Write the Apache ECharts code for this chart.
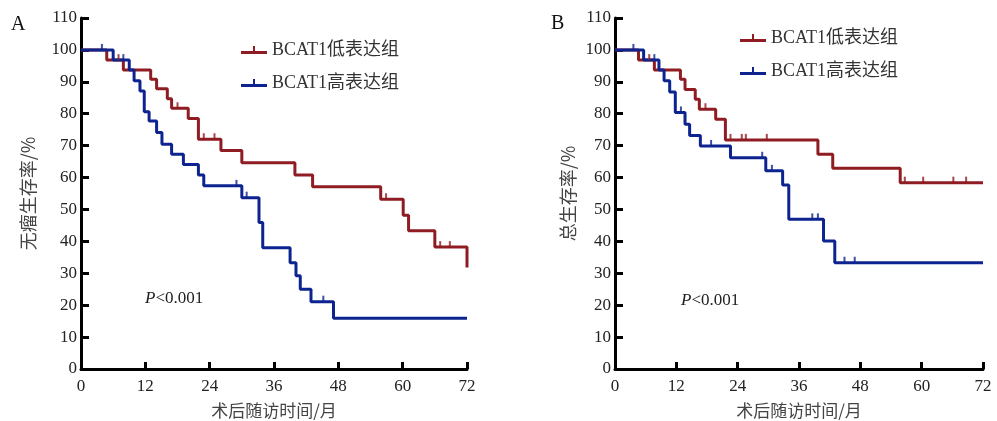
<!DOCTYPE html>
<html><head><meta charset="utf-8">
<script src="https://cdn.jsdelivr.net/npm/echarts@6/dist/echarts.min.js"></script>
<style>html,body{margin:0;padding:0;background:#fff}#c{width:997px;height:421px}</style>
</head><body><div id="c"></div>
<script>
// ---- data (months, survival %) ----
var xTicks = [0, 12, 24, 36, 48, 60, 72];
var legendNames = ['BCAT1低表达组', 'BCAT1高表达组'];

// Panel A: 无瘤生存率
var A_low_t  = [0,4.8,7.9,13,14.1,16.1,16.9,20,21.9,26.1,30,39.9,43.2,55.9,60.1,61.1,66,72];
var A_low_s  = [100,96.8,93.7,90.8,87.8,84.7,81.7,78.5,72,68.5,64.6,60.8,57.1,53.2,48.2,43.3,38.2,31.8];
var A_low_c  = [7.0,18.0,22.9,24.9,56.9,67.0,68.8];
var A_high_t = [0,6.0,9.0,9.9,11.0,11.8,12.7,14.1,15.1,16.9,19.1,21.9,22.9,30.0,33.2,33.9,39.0,40.1,40.9,42.9,47.1,72];
var A_high_s = [100,96.8,93.7,90.3,87.1,80.6,77.7,74.1,70.4,67.3,64.1,60.8,57.4,53.7,45.9,38.0,33.3,29.2,25.0,21.1,15.9,15.9];
var A_high_c = [3.9,7.9,29.0,30.9,45.2];

// Panel B: 总生存率
var B_low_t  = [0,4.6,7.7,12.8,13.7,15.7,16.5,19.7,21.6,39.7,42.6,55.8,72];
var B_low_s  = [100,96.8,93.7,90.8,87.6,84.5,81.4,78.3,71.8,67.3,62.9,58.4,58.4];
var B_low_c  = [6.7,17.7,22.6,24.8,25.6,29.7,56.7,60.3,66.2,68.7];
var B_high_t = [0,5.6,8.6,9.6,10.7,11.8,13.7,14.6,16.7,22.6,29.5,32.8,34.0,40.8,43.0,72];
var B_high_s = [100,96.8,93.7,90.3,86.8,80.4,76.7,73.2,69.9,66.2,62.1,57.7,46.9,40.1,33.3,33.3];
var B_high_c = [3.6,7.7,12.9,18.8,28.8,30.7,38.6,39.7,44.9,46.9];

var RED = '#8f1c22', BLUE = '#0d2490';
var SERIF = '"Liberation Serif","Noto Sans CJK SC",serif';
var CJK = '"Noto Sans CJK SC",sans-serif';

function pairs(t, s) { return t.map(function (v, i) { return [v, s[i]]; }); }
function censor(t, s, c) {
  return c.map(function (ct) {
    var y = s[0];
    for (var i = 0; i < t.length; i++) { if (t[i] <= ct) y = s[i]; }
    return [ct, y];
  });
}

function xAxis(idx) {
  return {
    type: 'value', gridIndex: idx, min: 0, max: 72, interval: 12,
    name: '术后随访时间/月', nameLocation: 'middle', nameGap: 33,
    nameTextStyle: { fontFamily: CJK, fontSize: 17, color: '#444' },
    axisLine: { show: true, lineStyle: { color: '#000', width: 3 } },
    axisTick: { show: true, inside: true, length: 7, lineStyle: { color: '#000', width: 3 } },
    axisLabel: { margin: 9, fontFamily: SERIF, fontSize: 17, color: '#222' },
    splitLine: { show: false }
  };
}
function yAxis(idx, name, gap) {
  return {
    type: 'value', gridIndex: idx, min: 0, max: 110, interval: 10,
    name: name, nameLocation: 'middle', nameGap: gap, nameRotate: 90,
    nameTextStyle: { fontFamily: CJK, fontSize: 18, color: '#444' },
    axisLine: { show: true, lineStyle: { color: '#000', width: 3 } },
    axisTick: { show: true, inside: true, length: 8, lineStyle: { color: '#000', width: 3 } },
    axisLabel: { margin: 4, fontFamily: SERIF, fontSize: 17, color: '#222' },
    splitLine: { show: false }
  };
}
function stepSeries(name, idx, t, s, color) {
  return {
    name: name, type: 'line', step: 'end', xAxisIndex: idx, yAxisIndex: idx,
    data: pairs(t, s), showSymbol: false, symbol: 'none',
    lineStyle: { color: color, width: 3 }, itemStyle: { color: color }, z: 3
  };
}
function censorSeries(idx, t, s, c, color) {
  return {
    type: 'scatter', xAxisIndex: idx, yAxisIndex: idx,
    data: censor(t, s, c), symbol: 'rect', symbolSize: [2, 6], symbolOffset: [0, -3],
    itemStyle: { color: color }, z: 4, silent: true
  };
}
var ICON = 'path://M0,5 L26,5 L26,8 L0,8 Z M12,0 L14,0 L14,5 L12,5 Z';
function legend(left, top) {
  return {
    left: left, top: top, orient: 'vertical', itemGap: 15,
    itemWidth: 26, itemHeight: 8, icon: ICON,
    data: legendNames.map(function (n) { return { name: n }; }),
    textStyle: { fontFamily: SERIF, fontSize: 18, color: '#333' },
    selectedMode: false
  };
}

var chart = echarts.init(document.getElementById('c'), null, { renderer: 'canvas' });
var opt = {
  animation: false,
  backgroundColor: '#fff',
  grid: [
    { left: 81, top: 18, width: 386, height: 351, containLabel: false, outerBoundsMode: 'none' },
    { left: 615, top: 18, width: 368, height: 351, containLabel: false, outerBoundsMode: 'none' }
  ],
  xAxis: [xAxis(0), xAxis(1)],
  yAxis: [yAxis(0, '无瘤生存率/%', 44), yAxis(1, '总生存率/%', 38)],
  legend: [legend(236, 36), legend(735, 24)],
  series: [
    stepSeries(legendNames[0], 0, A_low_t, A_low_s, RED),
    stepSeries(legendNames[1], 0, A_high_t, A_high_s, BLUE),
    censorSeries(0, A_low_t, A_low_s, A_low_c, RED),
    censorSeries(0, A_high_t, A_high_s, A_high_c, BLUE),
    stepSeries(legendNames[0], 1, B_low_t, B_low_s, RED),
    stepSeries(legendNames[1], 1, B_high_t, B_high_s, BLUE),
    censorSeries(1, B_low_t, B_low_s, B_low_c, RED),
    censorSeries(1, B_high_t, B_high_s, B_high_c, BLUE)
  ],
  graphic: [
    { type: 'text', left: 11, top: 15, style: { text: 'A', fontFamily: SERIF, fontSize: 20, fill: '#111' } },
    { type: 'text', left: 551, top: 14, style: { text: 'B', fontFamily: SERIF, fontSize: 20, fill: '#111' } },
    { type: 'text', left: 145, top: 290, style: { text: '{i|P}<0.001', rich: { i: { fontStyle: 'italic', fontFamily: SERIF, fontSize: 17, fill: '#222' } }, fontFamily: SERIF, fontSize: 17, fill: '#222' } },
    { type: 'text', left: 681, top: 292, style: { text: '{i|P}<0.001', rich: { i: { fontStyle: 'italic', fontFamily: SERIF, fontSize: 17, fill: '#222' } }, fontFamily: SERIF, fontSize: 17, fill: '#222' } }
  ]
};
chart.setOption(opt);
</script>
</body></html>
